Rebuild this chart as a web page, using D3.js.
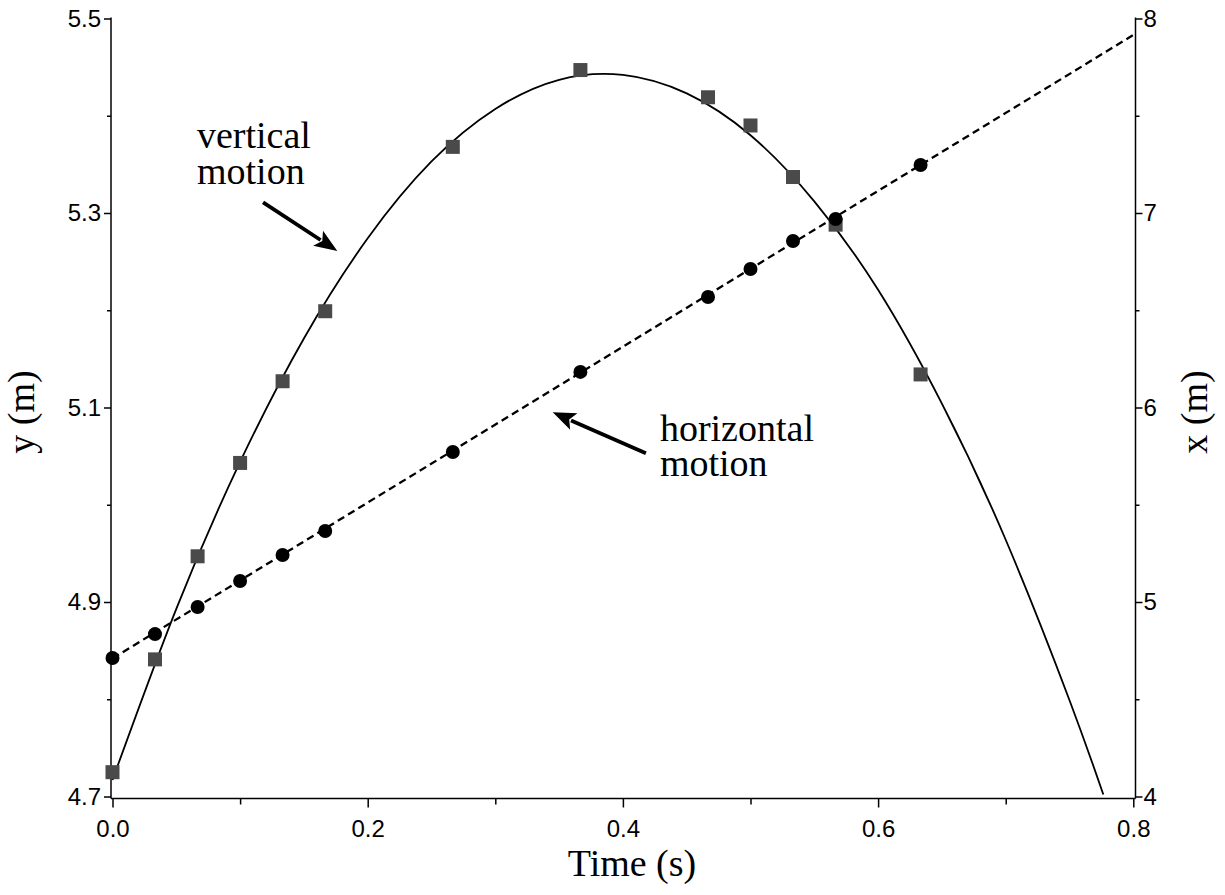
<!DOCTYPE html>
<html>
<head>
<meta charset="utf-8">
<script src="https://cdn.jsdelivr.net/npm/d3@7"></script>
<style>
  html, body { margin: 0; padding: 0; background: #fff; }
  svg { display: block; }
</style>
</head>
<body>
<svg id="chart" width="1225" height="895"></svg>
<script>
// ---- data ----
const timeValues = [0, 0.0333, 0.0667, 0.1, 0.1333, 0.1667, 0.2667, 0.3667, 0.4667, 0.5, 0.5333, 0.5667, 0.6333];
const verticalY  = [4.725, 4.841, 4.947, 5.043, 5.127, 5.199, 5.368, 5.447, 5.419, 5.390, 5.337, 5.288, 5.134];
const horizontalX = [4.712, 4.835, 4.974, 5.108, 5.242, 5.365, 5.771, 6.183, 6.568, 6.712, 6.856, 6.969, 7.247];

// fitted curve for vertical motion
const fitVertT = [0, 0.05, 0.10, 0.15, 0.20, 0.25, 0.30, 0.35, 0.40, 0.45, 0.50, 0.55, 0.60, 0.65, 0.70, 0.75, 0.7765];
const fitVertY = [4.717, 4.893, 5.044, 5.171, 5.274, 5.353, 5.407, 5.437, 5.442, 5.423, 5.380, 5.312, 5.221, 5.104, 4.964, 4.799, 4.702];
// fitted line for horizontal motion (end points)
const fitHorT = [0, 0.8];
const fitHorX = [4.71, 7.915];

const timeTicksMajor = [0, 0.2, 0.4, 0.6, 0.8];
const timeTicksMinor = [0.1, 0.3, 0.5, 0.7];
const yTicksMajor = [4.7, 4.9, 5.1, 5.3, 5.5];
const yTicksMinor = [4.8, 5.0, 5.2, 5.4];
const xTicksMajor = [4, 5, 6, 7, 8];
const xTicksMinor = [4.5, 5.5, 6.5, 7.5];

const labels = {
  time: "Time (s)", y: "y (m)", x: "x (m)",
  vert: ["vertical", "motion"], hor: ["horizontal", "motion"]
};
// annotation anchors in data units (time, y)
const vertText = {t: 0.0662, y: [5.367, 5.330]};
const vertArrow = {t0: 0.118, y0: 5.311, t1: 0.1762, y1: 5.261};
const horText = {t: 0.429, y: [5.066, 5.030]};
const horArrow = {t0: 0.418, y0: 5.053, t1: 0.345, y1: 5.095};

// ---- layout ----
const svg = d3.select("#chart");
const pLeft = 111, pRight = 1135.5, pTop = 18.5, pBottom = 796.5, axisY = 798.5;
const tScale = d3.scaleLinear().domain([0, 0.8]).range([112.5, 1133.3]);
const yScale = d3.scaleLinear().domain([4.7, 5.5]).range([pBottom, pTop]);
const xScale = d3.scaleLinear().domain([4, 8]).range([pBottom, pTop]);

const sans = "'Liberation Sans', Arial, Helvetica, sans-serif";
const serif = "'Liberation Serif', 'Times New Roman', Times, serif";

function styleAxis(g) {
  g.selectAll("path.domain").remove();
  g.selectAll("line").attr("stroke", "#000").attr("stroke-width", 1.5);
  g.selectAll("text").attr("font-family", sans).attr("font-size", 24).attr("fill", "#000");
}

// left axis
const gl = svg.append("g").attr("transform", `translate(${pLeft},0)`);
gl.append("g").call(d3.axisLeft(yScale).tickValues(yTicksMajor).tickSize(7).tickPadding(3).tickFormat(d3.format(".1f"))).call(styleAxis);
gl.append("g").call(d3.axisLeft(yScale).tickValues(yTicksMinor).tickSize(4).tickFormat("")).call(styleAxis);
gl.append("line").attr("x1", 0).attr("x2", 0).attr("y1", pTop - 1).attr("y2", axisY).attr("stroke", "#000").attr("stroke-width", 1.5);

// right axis
const gr = svg.append("g").attr("transform", `translate(${pRight},0)`);
gr.append("g").call(d3.axisRight(xScale).tickValues(xTicksMajor).tickSize(7).tickPadding(1).tickFormat(d3.format("d"))).call(styleAxis);
gr.append("g").call(d3.axisRight(xScale).tickValues(xTicksMinor).tickSize(4).tickFormat("")).call(styleAxis);
gr.append("line").attr("x1", 0).attr("x2", 0).attr("y1", pTop - 1).attr("y2", axisY).attr("stroke", "#000").attr("stroke-width", 1.5);

// bottom axis
const gb = svg.append("g").attr("transform", `translate(0,${axisY})`);
gb.append("g").call(d3.axisBottom(tScale).tickValues(timeTicksMajor).tickSize(9).tickPadding(12).tickFormat(d3.format(".1f"))).call(styleAxis);
gb.append("g").call(d3.axisBottom(tScale).tickValues(timeTicksMinor).tickSize(6).tickFormat("")).call(styleAxis);
gb.append("line").attr("x1", pLeft).attr("x2", pRight).attr("y1", 0).attr("y2", 0).attr("stroke", "#000").attr("stroke-width", 1.5);

// axis titles
svg.append("text").attr("x", 632).attr("y", 876).attr("text-anchor", "middle")
  .attr("font-family", serif).attr("font-size", 38).text(labels.time);
svg.append("text").attr("transform", "translate(34,412) rotate(-90)").attr("text-anchor", "middle")
  .attr("font-family", serif).attr("font-size", 38).text(labels.y);
svg.append("text").attr("transform", "translate(1207,412) rotate(-90)").attr("text-anchor", "middle")
  .attr("font-family", serif).attr("font-size", 38).text(labels.x);

// clip to plot
svg.append("clipPath").attr("id", "plotclip").append("rect")
  .attr("x", pLeft).attr("y", pTop).attr("width", pRight - pLeft).attr("height", pBottom - pTop);

const plot = svg.append("g");

// vertical fit curve
const vertCurve = fitVertT.map((t, i) => [t, fitVertY[i]]);
plot.append("path").datum(vertCurve)
  .attr("clip-path", "url(#plotclip)")
  .attr("fill", "none").attr("stroke", "#000").attr("stroke-width", 1.8)
  .attr("d", d3.line().x(d => tScale(d[0])).y(d => yScale(d[1])).curve(d3.curveNatural));

// horizontal fit line
const horLine = fitHorT.map((t, i) => [t, fitHorX[i]]);
plot.append("path").datum(horLine)
  .attr("fill", "none").attr("stroke", "#000").attr("stroke-width", 2.3).attr("stroke-dasharray", "7.5,4.5")
  .attr("d", d3.line().x(d => tScale(d[0])).y(d => xScale(d[1])));

// squares (vertical)
const sq = 14;
plot.selectAll("rect.sq").data(timeValues.map((t, i) => [t, verticalY[i]])).enter()
  .append("rect").attr("class", "sq")
  .attr("x", d => tScale(d[0]) - sq / 2).attr("y", d => yScale(d[1]) - sq / 2)
  .attr("width", sq).attr("height", sq).attr("fill", "#4a4a4a");

// circles (horizontal)
plot.selectAll("circle.pt").data(timeValues.map((t, i) => [t, horizontalX[i]])).enter()
  .append("circle").attr("class", "pt")
  .attr("cx", d => tScale(d[0])).attr("cy", d => xScale(d[1])).attr("r", 7).attr("fill", "#000");

// annotations (one text element per line)
function annotText(spec, lines) {
  lines.forEach((s, i) => {
    svg.append("text").attr("font-family", serif).attr("font-size", 38).attr("fill", "#000")
      .attr("x", tScale(spec.t)).attr("y", yScale(spec.y[i])).text(s);
  });
}
function arrow(a) {
  const x0 = tScale(a.t0), y0 = yScale(a.y0), x1 = tScale(a.t1), y1 = yScale(a.y1);
  const dx = x1 - x0, dy = y1 - y0, len = Math.hypot(dx, dy);
  const ux = dx / len, uy = dy / len, px = -uy, py = ux;
  const headL = 23, headW = 9;
  const bx = x1 - ux * headL, by = y1 - uy * headL;
  svg.append("line").attr("x1", x0).attr("y1", y0).attr("x2", bx + ux * 3).attr("y2", by + uy * 3)
    .attr("stroke", "#000").attr("stroke-width", 3.8);
  svg.append("path")
    .attr("d", `M${x1},${y1} L${bx + px * headW},${by + py * headW} L${bx + ux * 5},${by + uy * 5} L${bx - px * headW},${by - py * headW} Z`)
    .attr("fill", "#000");
}
annotText(vertText, labels.vert);
annotText(horText, labels.hor);
arrow(vertArrow);
arrow(horArrow);
</script>
</body>
</html>
